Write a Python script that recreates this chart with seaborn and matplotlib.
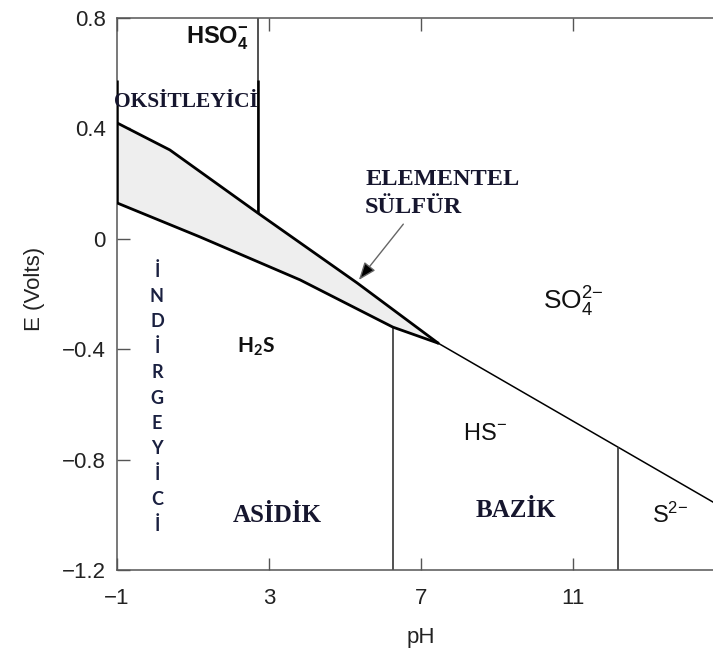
import numpy as np
import matplotlib
matplotlib.use("Agg")
import matplotlib.pyplot as plt
import seaborn as sns

# Eh-pH boundaries (pH, E in volts)
upper_ph = [-1.0, 0.39, 2.71, 5.32, 7.45]
upper_e = [0.42, 0.322, 0.093, -0.16, -0.378]
lower_ph = [-1.0, 1.18, 3.82, 6.26, 7.45]
lower_e = [0.13, 0.007, -0.149, -0.320, -0.378]
hs_ph = [7.45, 15.0]
hs_e = [-0.378, -0.979]

# vertical boundaries: HSO4-/SO4, H2S/HS-, HS-/S2-
vline_ph = [2.71, 6.27, 12.18]
vline_lo = [0.093, -1.2, -1.2]
vline_hi = [0.8, -0.32, -0.754]

x_ticks = [-1, 3, 7, 11, 15]
x_labels = ["\u22121", "3", "7", "11", ""]
y_ticks = [-1.2, -0.8, -0.4, 0, 0.4, 0.8]
y_labels = ["\u22121.2", "\u22120.8", "\u22120.4", "0", "0.4", "0.8"]

sns.set_theme(style="ticks")
plt.rcParams["font.family"] = ["Liberation Sans", "DejaVu Sans"]
plt.rcParams["mathtext.default"] = "regular"

fig = plt.figure(figsize=(7.13, 6.51), dpi=100)
ax = fig.add_axes([117 / 713, 81 / 651, 608 / 713, 552 / 651])

# elemental sulfur wedge
ax.fill(upper_ph + lower_ph[::-1], upper_e + lower_e[::-1], color="#eeeeee", lw=0, zorder=1)
sns.lineplot(x=upper_ph, y=upper_e, sort=False, color="black", lw=2.0, ax=ax, zorder=3)
sns.lineplot(x=lower_ph, y=lower_e, sort=False, color="black", lw=2.0, ax=ax, zorder=3)
sns.lineplot(x=hs_ph, y=hs_e, sort=False, color="black", lw=1.1, ax=ax, zorder=2)
ax.vlines(vline_ph, vline_lo, vline_hi, color="#333333", lw=1.2, zorder=2)
# retouched darker edges of the oxidising box
ax.vlines([-1.0, 2.71], [0.13, 0.093], [0.575, 0.575], color="black", lw=1.8, zorder=3)

ax.set_xlim(-1, 15)
ax.set_ylim(-1.2, 0.8)
ax.set_xticks(x_ticks)
ax.set_xticklabels(x_labels)
ax.set_yticks(y_ticks)
ax.set_yticklabels(y_labels)
ax.tick_params(direction="in", length=9, width=1, top=True, right=True,
               labelsize=16, labelcolor="#222222", color="#555555")
ax.tick_params(axis="x", pad=13)
ax.tick_params(axis="y", pad=8)
for s in ax.spines.values():
    s.set_color("#555555")
    s.set_linewidth(1.1)

ax.set_xlabel("pH", fontsize=16, color="#222222")
ax.set_ylabel("E (Volts)", fontsize=16, color="#222222")
ax.xaxis.set_label_coords(0.5, -0.103)
ax.yaxis.set_label_coords(-0.118, 0.51)

# species labels
sp = dict(color="#111111", ha="left", va="baseline", zorder=5)
ax.text(0.816, 0.709, "HSO$_4^{{-}}$", fontsize=17, fontweight="bold", **sp)
ax.text(10.21, -0.258, "SO$_4^{2{-}}$", fontsize=19, **sp)
ax.text(8.1, -0.729, "HS$^{{-}}$", fontsize=17, **sp)
ax.text(13.08, -1.03, "S$^{2{-}}$", fontsize=17, **sp)
ax.text(2.16, -0.414, "H$_2$S", fontsize=15, fontweight="bold",
        family=["Lato", "DejaVu Sans"], **sp)

# Turkish annotations
navy = "#16162e"
serif = dict(family=["Liberation Serif", "DejaVu Serif"], fontweight="bold",
             color=navy, va="baseline", zorder=6)
ax.text(0.82, 0.478, "OKSİTLEYİCİ", fontsize=15.5, ha="center", **serif)
ax.text(5.53, 0.195, "ELEMENTEL", fontsize=17.5, ha="left", **serif)
ax.text(5.53, 0.093, "SÜLFÜR", fontsize=17.5, ha="left", **serif)
ax.text(3.21, -1.026, "ASİDİK", fontsize=18, ha="center", **serif)
ax.text(9.5, -1.008, "BAZİK", fontsize=18, ha="center", **serif)

letters = list("İNDİRGEYİCİ")
for ch, e in zip(letters, np.linspace(-0.117, -1.037, len(letters))):
    ax.text(0.05, e, ch, fontsize=13, fontweight="bold", color="#1a2040",
            family=["Lato", "DejaVu Sans"], ha="center", va="center", zorder=6)

ax.annotate("", xy=(5.32, -0.157), xytext=(6.58, 0.061),
            arrowprops=dict(arrowstyle="-|>,head_length=0.9,head_width=0.35",
                            fc="black", ec="#666666", lw=1.0), zorder=6)

fig.savefig("out.png", dpi=100)
